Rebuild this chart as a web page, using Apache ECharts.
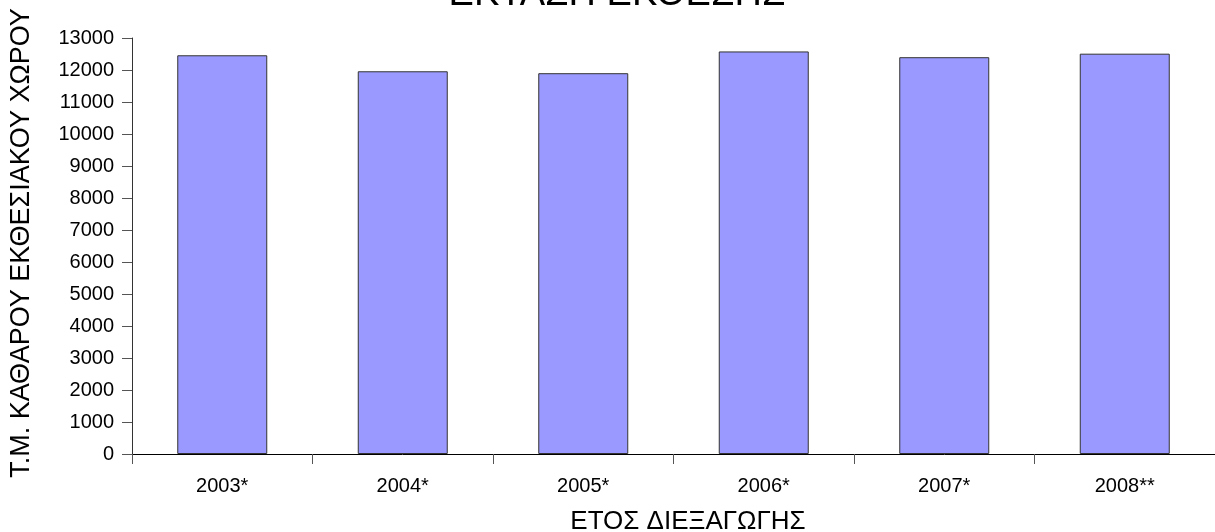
<!DOCTYPE html>
<html>
<head>
<meta charset="utf-8">
<script src="https://cdn.jsdelivr.net/npm/echarts@6/dist/echarts.min.js"></script>
<style>
html,body{margin:0;padding:0;background:#fff;}
#c{width:1215px;height:532px;}
</style>
</head>
<body>
<div id="c"></div>
<script>
const categories = ['2003*', '2004*', '2005*', '2006*', '2007*', '2008**'];
const values = [12460, 11960, 11900, 12580, 12400, 12510];
const yTicks = {min: 0, max: 13000, interval: 1000};
const titleText = 'ΕΚΤΑΣΗ ΕΚΘΕΣΗΣ';
const yName = 'Τ.Μ. ΚΑΘΑΡΟΥ ΕΚΘΕΣΙΑΚΟΥ ΧΩΡΟΥ';
const xName = 'ΕΤΟΣ ΔΙΕΞΑΓΩΓΗΣ';

const font = 'Liberation Sans, Arial, sans-serif';
const chart = echarts.init(document.getElementById('c'), null, {renderer: 'canvas'});
chart.setOption({
  backgroundColor: '#ffffff',
  animation: false,
  grid: {left: 132, top: 38, width: 1092, height: 416, containLabel: false},
  xAxis: {
    type: 'category',
    data: categories,
    boundaryGap: true,
    axisLine: {show: true, lineStyle: {color: '#000', width: 1}},
    axisTick: {show: true, length: 10, lineStyle: {color: '#555', width: 1}},
    axisLabel: {fontFamily: font, fontSize: 20, color: '#000', margin: 22}
  },
  yAxis: {
    type: 'value',
    min: yTicks.min, max: yTicks.max, interval: yTicks.interval,
    splitLine: {show: false},
    axisLine: {show: true, lineStyle: {color: '#333', width: 1}},
    axisTick: {show: true, length: 10, lineStyle: {color: '#555', width: 1}},
    axisLabel: {fontFamily: font, fontSize: 20, color: '#000', margin: 18, formatter: v => String(v)}
  },
  series: [{
    type: 'bar',
    data: values,
    barWidth: 90,
    itemStyle: {color: '#9999ff', borderColor: '#333', borderWidth: 1}
  }],
  graphic: [
    {type: 'text', x: 617, y: 14, style: {text: titleText, font: '38px ' + font, fill: '#000', align: 'center', verticalAlign: 'bottom'}},
    {type: 'text', x: 22, y: 243, rotation: Math.PI / 2, style: {text: yName, font: '27px ' + font, fill: '#000', align: 'center', verticalAlign: 'middle'}},
    {type: 'text', x: 688, y: 522, style: {text: xName, font: '26px ' + font, fill: '#000', align: 'center', verticalAlign: 'middle'}}
  ]
});
</script>
</body>
</html>
